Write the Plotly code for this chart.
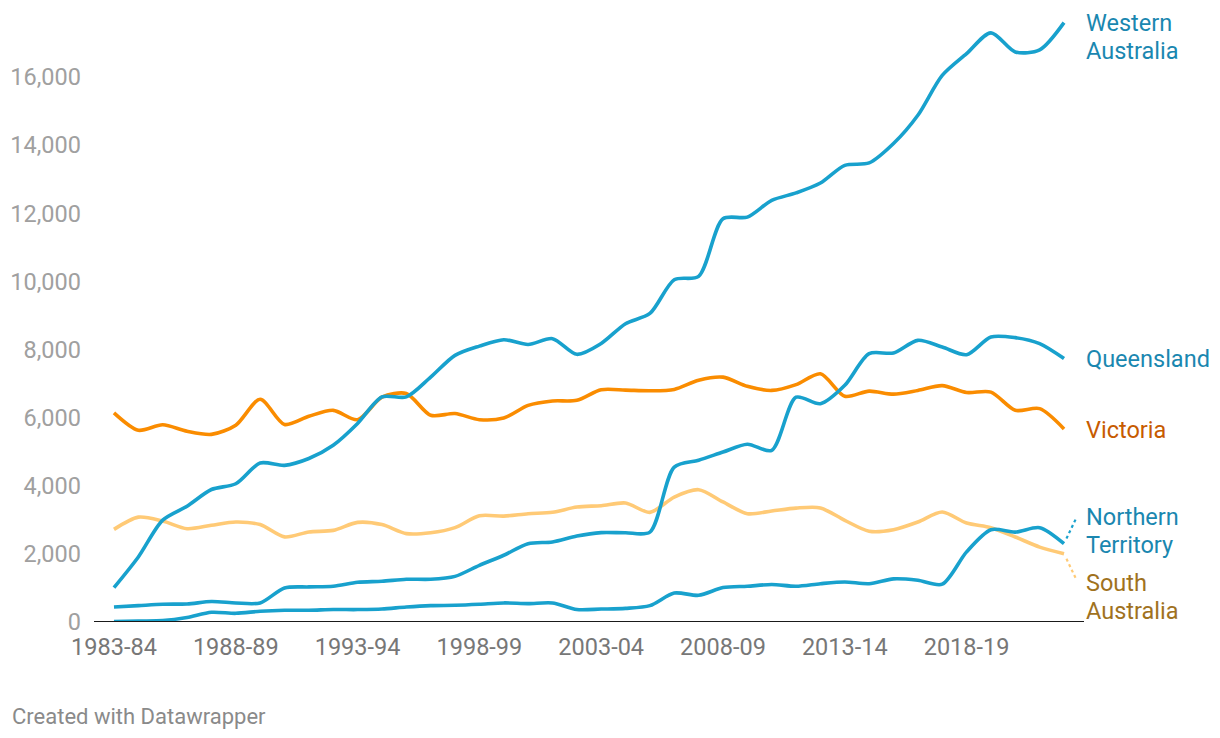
import plotly.graph_objects as go

years = [f"{y}-{str(y+1)[-2:]}" for y in range(1983, 2023)]

western_australia = [1010, 1910, 2990, 3400, 3890, 4060, 4670, 4600, 4800, 5190,
                     5830, 6610, 6610, 7190, 7830, 8100, 8290, 8150, 8320, 7860,
                     8180, 8760, 9060, 10050, 10150, 11840, 11890, 12380, 12600, 12890,
                     13410, 13480, 14050, 14880, 16050, 16690, 17300, 16740, 16800, 17600]
queensland = [440, 480, 520, 530, 600, 560, 560, 1000, 1030, 1050,
              1165, 1195, 1255, 1255, 1340, 1665, 1960, 2300, 2350, 2525,
              2625, 2620, 2640, 4550, 4750, 4990, 5220, 5040, 6600, 6410,
              6950, 7880, 7900, 8270, 8075, 7850, 8370, 8350, 8175, 7735]
victoria = [6140, 5630, 5790, 5600, 5510, 5780, 6540, 5800, 6040, 6215,
            5940, 6600, 6710, 6070, 6120, 5940, 5990, 6360, 6490, 6510,
            6820, 6810, 6790, 6830, 7100, 7190, 6920, 6800, 6970, 7290,
            6630, 6780, 6690, 6800, 6940, 6740, 6750, 6215, 6265, 5670]
northern_territory = [10, 30, 40, 130, 285, 255, 315, 345, 345, 365,
                      365, 380, 440, 480, 490, 520, 560, 540, 560, 365,
                      380, 400, 480, 850, 785, 1010, 1050, 1100, 1050, 1125,
                      1175, 1125, 1265, 1225, 1110, 2060, 2710, 2640, 2770, 2300]
south_australia = [2720, 3080, 2965, 2740, 2840, 2935, 2860, 2500, 2645, 2690,
                   2925, 2860, 2595, 2620, 2770, 3120, 3110, 3180, 3220, 3375,
                   3415, 3495, 3220, 3670, 3885, 3525, 3180, 3260, 3345, 3350,
                   2985, 2665, 2710, 2935, 3230, 2905, 2770, 2495, 2200, 2005]

tick_labels = ["1983-84", "1988-89", "1993-94", "1998-99", "2003-04", "2008-09", "2013-14", "2018-19"]
y_ticks = [0, 2000, 4000, 6000, 8000, 10000, 12000, 14000, 16000]

BLUE = "#18a1cd"
ORANGE = "#fa8c00"
LIGHT = "#ffca76"
BLUE_TXT = "#1a87b0"
ORANGE_TXT = "#c75b00"
LIGHT_TXT = "#a0721e"

series = [
    ("South Australia", south_australia, LIGHT),
    ("Northern Territory", northern_territory, BLUE),
    ("Victoria", victoria, ORANGE),
    ("Queensland", queensland, BLUE),
    ("Western Australia", western_australia, BLUE),
]

fig = go.Figure()
for name, vals, col in series:
    fig.add_trace(go.Scatter(
        x=years, y=vals, name=name, mode="lines",
        line=dict(color=col, width=3.6, shape="spline", smoothing=0.8),
        hoverinfo="x+y+name",
    ))

last = years[-1]
x_last = len(years) - 1
font = "Roboto, sans-serif"
LS = 23.5

# end labels: (text line, anchor value, colour, vertical shift in px)
end_labels = [
    ("Western", western_australia[-1], BLUE_TXT, 0),
    ("Australia", western_australia[-1], BLUE_TXT, -28),
    ("Queensland", queensland[-1], BLUE_TXT, 0),
    ("Victoria", victoria[-1], ORANGE_TXT, -1),
    ("Northern", northern_territory[-1], BLUE_TXT, 27),
    ("Territory", northern_territory[-1], BLUE_TXT, -1),
    ("South", south_australia[-1], LIGHT_TXT, -29),
    ("Australia", south_australia[-1], LIGHT_TXT, -57),
]
for txt, v, c, dy in end_labels:
    fig.add_annotation(x=last, y=v, xref="x", yref="y", text=txt,
                       showarrow=False, xanchor="left", yanchor="middle",
                       xshift=20, yshift=dy, align="left",
                       font=dict(family=font, size=LS, color=c))

# dotted leader lines
fig.add_shape(type="line", xref="x", yref="y",
              x0=x_last + 0.1, y0=northern_territory[-1] + 150,
              x1=x_last + 0.5, y1=northern_territory[-1] + 750,
              line=dict(color=BLUE, width=2.2, dash="dot"))
fig.add_shape(type="line", xref="x", yref="y",
              x0=x_last + 0.1, y0=south_australia[-1] - 150,
              x1=x_last + 0.5, y1=south_australia[-1] - 750,
              line=dict(color=LIGHT, width=2.2, dash="dot"))

# baseline
fig.add_shape(type="line", xref="paper", yref="y", x0=0, x1=1, y0=0, y1=0,
              line=dict(color="#1a1a1a", width=2))

fig.add_annotation(x=0, y=0, xref="paper", yref="paper", xshift=-84, yshift=-94,
                   xanchor="left", yanchor="middle", showarrow=False,
                   text="Created with Datawrapper",
                   font=dict(family=font, size=22, color="#8a8a8a"))

fig.update_layout(
    width=1212, height=730,
    margin=dict(l=86, r=136, t=1, b=116),
    paper_bgcolor="white", plot_bgcolor="white",
    showlegend=False,
    font=dict(family=font),
    xaxis=dict(type="category", range=[-0.82, len(years) - 1 + 0.82],
               tickmode="array", tickvals=tick_labels, ticktext=tick_labels,
               showgrid=False, zeroline=False, showline=False, ticks="",
               tickfont=dict(family=font, size=LS, color="#777777"),
               ticklabelstandoff=8),
    yaxis=dict(range=[0, 18000], tickvals=y_ticks,
               ticktext=[f"{v:,}" for v in y_ticks],
               showgrid=False, zeroline=False, showline=False, ticks="",
               tickfont=dict(family=font, size=LS, color="#a0a0a0"),
               ticklabelstandoff=12),
)

fig.write_html("out.html")
